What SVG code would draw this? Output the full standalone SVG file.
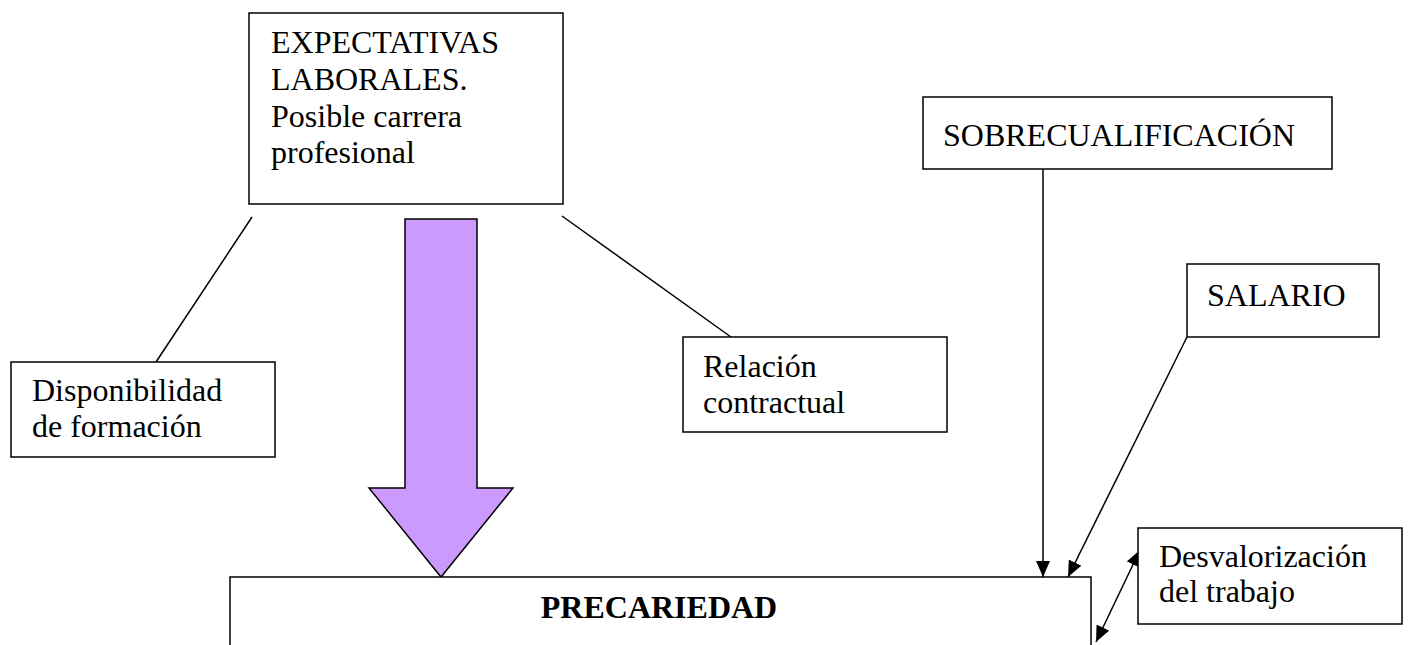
<svg xmlns="http://www.w3.org/2000/svg" width="1410" height="645" viewBox="0 0 1410 645">
<style>
.box{fill:#fff;stroke:#000;stroke-width:1.5}
.t{font-family:"Liberation Serif","Times New Roman",serif;font-size:32px;fill:#000}
.b{font-weight:bold}
.ln{stroke:#000;stroke-width:1.5;fill:none}
</style>
<defs>
<marker id="ah" viewBox="0 0 16 14" refX="16" refY="7" markerWidth="16" markerHeight="14" markerUnits="userSpaceOnUse" orient="auto-start-reverse">
<path d="M0,0 L16,7 L0,14 Z" fill="#000"/>
</marker>
</defs>
<rect width="1410" height="645" fill="#fff"/>
<g id="connectors">
<line class="ln" x1="252" y1="217" x2="156" y2="362"/>
<line class="ln" x1="562" y1="216" x2="731" y2="337"/>
<line class="ln" x1="1043" y1="169" x2="1043" y2="577" marker-end="url(#ah)"/>
<line class="ln" x1="1187" y1="337" x2="1068" y2="577" marker-end="url(#ah)"/>
<line class="ln" x1="1096" y1="642" x2="1140" y2="550" marker-start="url(#ah)" marker-end="url(#ah)"/>
<polygon points="405,219 477,219 477,488 513,488 441,577 369,488 405,488" fill="#CC99FF" stroke="#000" stroke-width="1.5" stroke-linejoin="miter"/>
</g>
<g id="expectativas">
<rect class="box" x="249" y="13" width="314" height="191"/>
<text class="t" x="271" y="53">EXPECTATIVAS</text>
<text class="t" x="271" y="90">LABORALES.</text>
<text class="t" x="271" y="127">Posible carrera</text>
<text class="t" x="271" y="163">profesional</text>
</g>
<g id="sobrecualificacion">
<rect class="box" x="923" y="97" width="409" height="72"/>
<text class="t" x="943" y="146">SOBRECUALIFICACIÓN</text>
</g>
<g id="salario">
<rect class="box" x="1187" y="264" width="192" height="73"/>
<text class="t" x="1207" y="306">SALARIO</text>
</g>
<g id="disponibilidad">
<rect class="box" x="11" y="362" width="264" height="95"/>
<text class="t" x="32" y="401">Disponibilidad</text>
<text class="t" x="32" y="437">de formación</text>
</g>
<g id="relacion">
<rect class="box" x="683" y="337" width="264" height="95"/>
<text class="t" x="703" y="377">Relación</text>
<text class="t" x="703" y="413">contractual</text>
</g>
<g id="desvalorizacion">
<rect class="box" x="1138" y="528" width="264" height="96"/>
<text class="t" x="1159" y="567">Desvalorización</text>
<text class="t" x="1159" y="602">del trabajo</text>
</g>
<g id="precariedad">
<rect class="box" x="230" y="577" width="861" height="100"/>
<text class="t b" x="659" y="618" text-anchor="middle">PRECARIEDAD</text>
</g>
</svg>
